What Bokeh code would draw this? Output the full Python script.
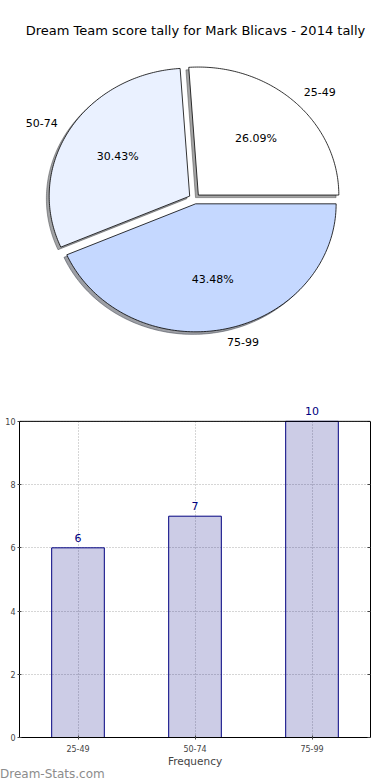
import numpy as np
from bokeh.plotting import figure
from bokeh.models import (Range1d, FactorRange, Label, LabelSet, ColumnDataSource,
                          LinearAxis, Span, Div)
from bokeh.layouts import column
from bokeh.embed import file_html
from bokeh.resources import INLINE
from bokeh.core.properties import value

# ---------------- data ----------------
title_text = "Dream Team score tally for Mark Blicavs - 2014 tally"
categories = ["25-49", "50-74", "75-99"]
counts = [6, 7, 10]
slice_colors = ["#FFFFFF", "#EAF1FF", "#C5D8FF"]
y_ticks = [0, 2, 4, 6, 8, 10]
y_max = 10
x_label = "Frequency"
watermark = "Dream-Stats.com"

FONT = "DejaVu Sans"
W = 390
H1 = 392
BL, BR = 19, 20                # frame left / right borders (shared by both plots)
FW = W - BL - BR               # frame width

# ---------------- pie ----------------
rx, ry = 140.5, 128.0          # pixels per unit radius (x, y)
cx_px, cy_px = 175.0, 198.3    # pie centre, from frame top-left
explode = 0.04
shadow_off = -0.02

p1 = figure(width=W, height=H1, output_backend="svg", toolbar_location=None,
            x_range=Range1d(-cx_px / rx, (FW - cx_px) / rx),
            y_range=Range1d(-(H1 - cy_px) / ry, cy_px / ry),
            min_border=0, min_border_left=BL, min_border_right=BR,
            x_axis_location=None, y_axis_location=None, outline_line_color=None)
p1.grid.visible = False

total = float(sum(counts))
fracs = np.array(counts, dtype=float) / total
theta = np.concatenate([[0.0], np.cumsum(fracs) * 2 * np.pi])

wx, wy, sx, sy, mids, offs = [], [], [], [], [], []
for i in range(len(counts)):
    t1, t2 = theta[i], theta[i + 1]
    tm = 0.5 * (t1 + t2)
    ox, oy = explode * np.cos(tm), explode * np.sin(tm)
    t = np.linspace(t1, t2, 120)
    px = np.concatenate([[ox], ox + np.cos(t), [ox]])
    py = np.concatenate([[oy], oy + np.sin(t), [oy]])
    wx.append(list(px)); wy.append(list(py))
    sx.append(list(px + shadow_off)); sy.append(list(py + shadow_off))
    mids.append(tm); offs.append((ox, oy))

shadow_cols = []
for c in slice_colors:
    r, g, b = int(c[1:3], 16), int(c[3:5], 16), int(c[5:7], 16)
    shadow_cols.append("#%02x%02x%02x" % (int(r * 0.3), int(g * 0.3), int(b * 0.3)))

p1.patches(xs=sx, ys=sy, fill_color=shadow_cols, fill_alpha=0.5,
           line_color=shadow_cols, line_alpha=0.5, line_width=1)
p1.patches(xs=wx, ys=wy, fill_color=slice_colors, line_color="black", line_width=0.8)

for i, cat in enumerate(categories):
    tm = mids[i]; ox, oy = offs[i]
    c, s = np.cos(tm), np.sin(tm)
    p1.text(x=[ox + 1.1 * c], y=[oy + 1.1 * s], text=[cat],
            text_font=value(FONT), text_font_size="11px", text_color="black",
            text_align="left" if c > 0 else "right", text_baseline="middle")
    pct = "%.2f%%" % (100.0 * counts[i] / total)
    p1.text(x=[ox + 0.6 * c], y=[oy + 0.6 * s], text=[pct],
            text_font=value(FONT), text_font_size="11px", text_color="black",
            text_align="center", text_baseline="middle")

p1.add_layout(Label(x=195 - BL, y=H1 - 30, x_units="screen", y_units="screen",
                    text=title_text, text_font=FONT, text_font_size="13px",
                    text_color="black", text_align="center", text_baseline="middle"))

# ---------------- bars ----------------
TOPB = 405 - H1                # border above the frame
FH = 335                       # frame height (includes room above y_max for labels)
BOTB = 29                      # border below the frame
H2 = TOPB + FH + BOTB
H3 = 780 - H1 - H2
px_per_unit = 319.0 / y_max
p2 = figure(width=W, height=H2, output_backend="svg", toolbar_location=None,
            x_range=FactorRange(*categories),
            y_range=Range1d(0, FH / px_per_unit),
            min_border_left=BL, min_border_right=BR, min_border_top=TOPB,
            min_border_bottom=BOTB)
p2.outline_line_color = None

p2.vbar(x=categories, top=counts, width=0.45, fill_color="navy", fill_alpha=0.2,
        line_color="navy", line_width=1)

src = ColumnDataSource(dict(x=categories, y=counts, t=[str(c) for c in counts]))
p2.add_layout(LabelSet(x="x", y="y", text="t", source=src, text_font=value(FONT),
                       text_font_size="11px", text_color="navy", text_align="center",
                       text_baseline="bottom", y_offset=6))

right_axis = LinearAxis(ticker=y_ticks, bounds=(0, y_max), major_label_text_color=None,
                        major_label_text_font_size="1px", major_label_standoff=0)
p2.add_layout(right_axis, "right")

p2.yaxis.ticker = y_ticks
p2.yaxis.bounds = (0, y_max)
for ax in [p2.xaxis[0], p2.yaxis[0], right_axis]:
    ax.major_label_text_font = FONT
    ax.major_tick_in = 2
    ax.major_tick_out = 2
    ax.major_tick_line_color = "#444444"
    ax.minor_tick_line_color = None
    ax.axis_line_color = "black"
for ax in [p2.xaxis[0], p2.yaxis[0]]:
    ax.major_label_text_font_size = "8px"
p2.xaxis.major_label_standoff = 5
p2.yaxis[0].major_label_standoff = 2
right_axis.major_tick_out = 0
right_axis.major_tick_in = 3

p2.xaxis.axis_label = x_label
p2.xaxis.axis_label_text_font = FONT
p2.xaxis.axis_label_text_font_size = "10.5px"
p2.xaxis.axis_label_text_font_style = "normal"
p2.xaxis.axis_label_standoff = 0

p2.add_layout(Span(location=y_max, dimension="width", line_color="black", line_width=1))

for g in (p2.xgrid, p2.ygrid):
    g.grid_line_color = "#777777"
    g.grid_line_alpha = 0.6
    g.grid_line_dash = "1 2"
    g.grid_line_width = 1
try:
    p2.xgrid.cross_bounds = (0, y_max)
except Exception:
    pass

wm = Div(text='<span style="font-family:\'DejaVu Sans\';font-size:12px;font-weight:normal;'
              'color:#8c8c8c;line-height:%dpx;white-space:nowrap;position:relative;top:-3px">%s</span>'
              % (H3, watermark),
         width=W, height=H3, margin=(0, 0, 0, 0))

layout = column(p1, p2, wm, spacing=0)
open("out.html", "w").write(file_html(layout, INLINE))
